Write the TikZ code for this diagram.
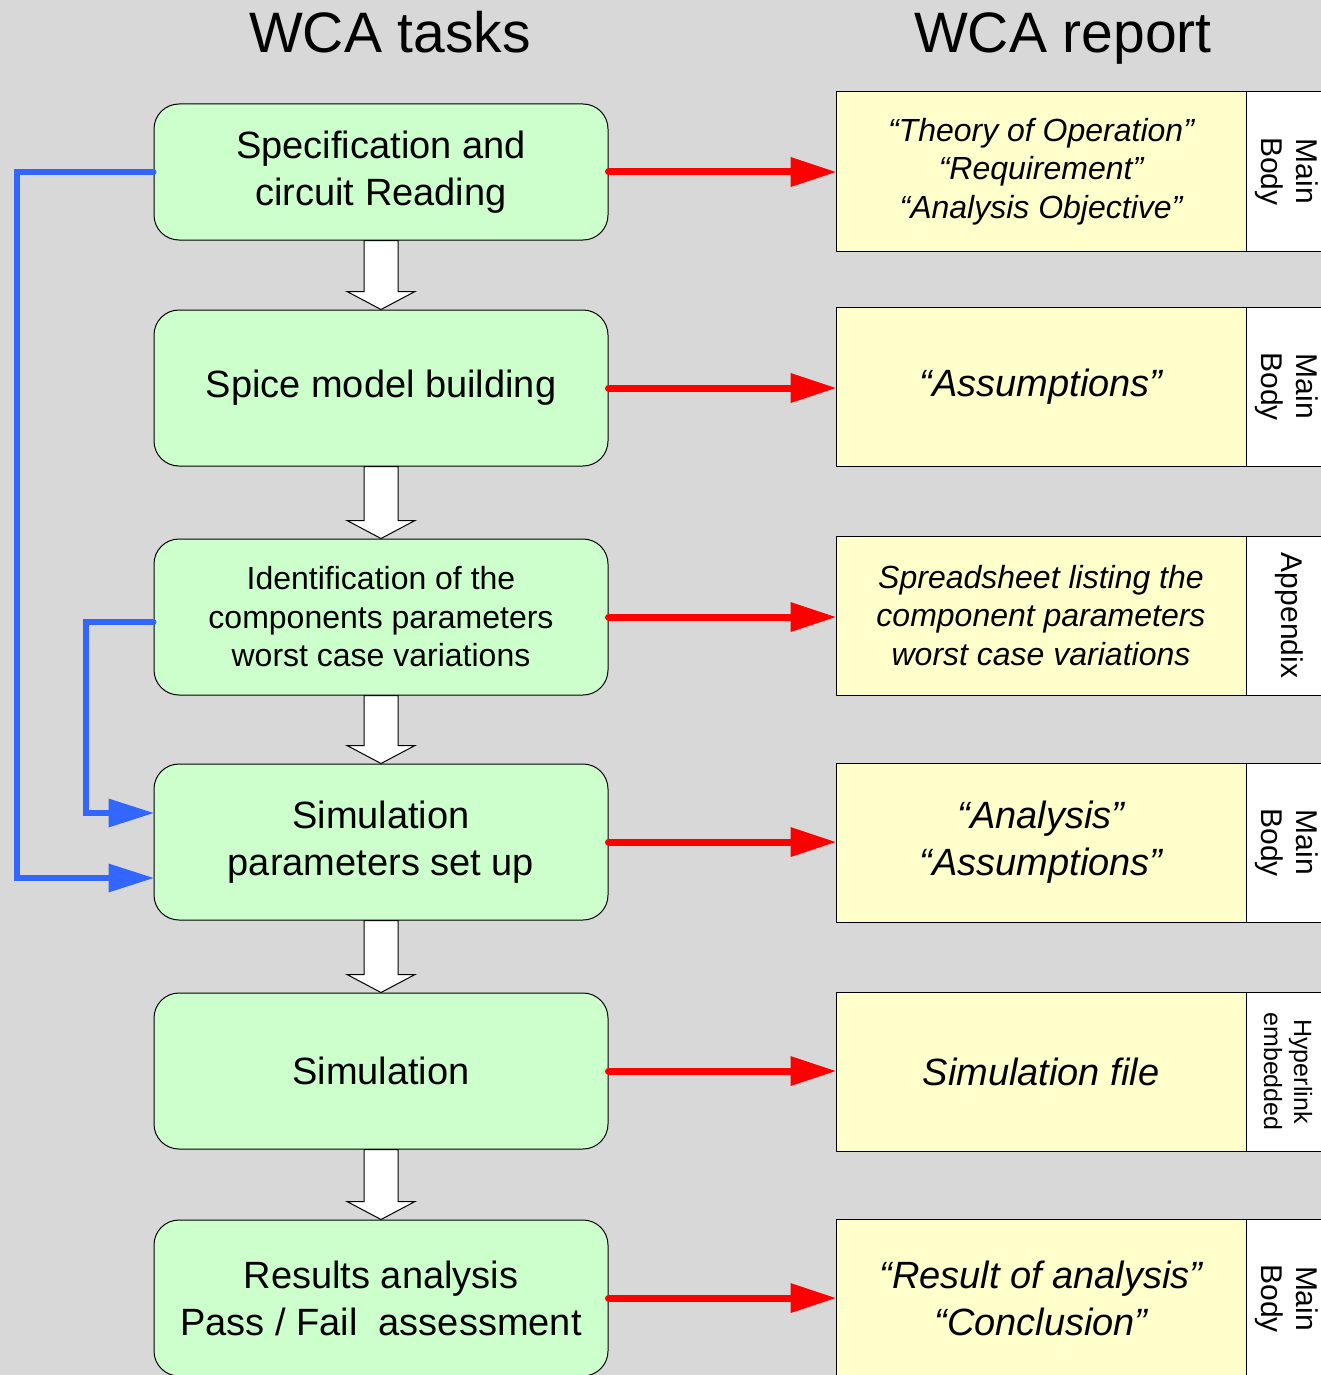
\documentclass[tikz,border=0pt]{standalone}
\usepackage{fontspec}
\setmainfont{Liberation Sans}
\usetikzlibrary{arrows.meta,calc}
\definecolor{bgcol}{RGB}{216,216,216}
\definecolor{taskgreen}{RGB}{204,255,204}
\definecolor{repyellow}{RGB}{255,255,204}
\definecolor{linkblue}{RGB}{51,102,255}
\newcommand\blkarrow[2]{%
  \draw[blk] ($(#1.south)+(-17,0)$) -- ($(#2.north)+(-17,-18)$) -- ($(#2.north)+(-34,-18)$)
    -- (#2.north) -- ($(#2.north)+(34,-18)$) -- ($(#2.north)+(17,-18)$) -- ($(#1.south)+(17,0)$) -- cycle;}
\begin{document}
\begin{tikzpicture}[x=1pt,y=-1pt,
  task/.style={draw=black, line width=1pt, fill=taskgreen, rounded corners=25pt,
    minimum width=454pt, minimum height=156pt, align=center, inner sep=0pt},
  report/.style={draw=black, line width=1pt, fill=repyellow, minimum width=410pt,
    minimum height=159pt, align=center, inner sep=0pt},
  tagbox/.style={draw=black, line width=1pt, fill=white, minimum width=88pt,
    minimum height=159pt, inner sep=0pt},
  taglabel/.style={rotate=-90, align=center, inner sep=0pt},
  bigtxt/.style={font=\fontsize{38}{47}\selectfont},
  midtxt/.style={font=\fontsize{32}{38.5}\selectfont},
  bigit/.style={font=\fontsize{38}{47}\selectfont\itshape},
  midit/.style={font=\fontsize{32}{38.5}\selectfont\itshape},
  tagtxt/.style={font=\fontsize{30}{35}\selectfont},
  tagsmall/.style={font=\fontsize{25}{30}\selectfont},
  titletxt/.style={font=\fontsize{57}{68}\selectfont, anchor=base, inner sep=0pt},
  blk/.style={draw=black, fill=white, line width=1pt, line join=miter},
  redarr/.style={draw=red, line width=7pt, line cap=round,
    -{Triangle[length=45pt,width=30pt,line width=0pt]}},
  bluearr/.style={draw=linkblue, line width=6pt, line cap=round,
    -{Triangle[length=45pt,width=29pt,line width=0pt]}}
]
\useasboundingbox (0,0) rectangle (1321,1375);
\fill[bgcol] (0,0) rectangle (1321,1375);

% titles
\node[titletxt] (ttask) at (390,53) {WCA tasks};
\node[titletxt] (trep) at (1063,53) {WCA report};

% task boxes
\node[task, bigtxt, minimum height=136pt] (t1) at (381,172) {Specification and\\circuit Reading};
\node[task, bigtxt] (t2) at (381,388) {Spice model building};
\node[task, midtxt] (t3) at (381,617) {Identification of the\\components parameters\\worst case variations};
\node[task, bigtxt] (t4) at (381,842) {Simulation\\parameters set up};
\node[task, bigtxt] (t5) at (381,1071) {Simulation};
\node[task, bigtxt] (t6) at (381,1298) {Results analysis\\Pass / Fail\ \ assessment};

% report boxes
\node[report, midit] (r1) at (1041,171.5) {``Theory of Operation''\\``Requirement''\\``Analysis Objective''};
\node[report, bigit] (r2) at (1041,386.5) {``Assumptions''};
\node[report, midit] (r3) at (1041,615.5) {Spreadsheet listing the\\component parameters\\worst case variations};
\node[report, bigit] (r4) at (1041,842.5) {``Analysis''\\``Assumptions''};
\node[report, bigit] (r5) at (1041,1071.5) {Simulation file};
\node[report, bigit] (r6) at (1041,1298.5) {``Result of analysis''\\``Conclusion''};

% tag boxes
\foreach \i/\y in {1/171.5,2/386.5,3/615.5,4/842.5,5/1071.5,6/1298.5} {
  \node[tagbox] (g\i) at (1290,\y) {};
}
\node[taglabel, tagtxt] (l1) at (1287,171.5) {Main\\Body};
\node[taglabel, tagtxt] (l2) at (1287,386.5) {Main\\Body};
\node[taglabel, tagtxt] (l3) at (1289,615.5) {Appendix};
\node[taglabel, tagtxt] (l4) at (1287,842.5) {Main\\Body};
\node[taglabel, tagsmall] (l5) at (1288,1071.5) {Hyperlink\\embedded};
\node[taglabel, tagtxt] (l6) at (1287,1298.5) {Main\\Body};

% block arrows
\blkarrow{t1}{t2}
\blkarrow{t2}{t3}
\blkarrow{t3}{t4}
\blkarrow{t4}{t5}
\blkarrow{t5}{t6}

% red arrows
\foreach \i in {1,...,6} {
  \draw[redarr] (t\i.east) -- (t\i.east -| r\i.west);
}

% blue feedback arrows
\draw[bluearr] (t1.west) -- ++(-137,0) |- ($(t4.west)+(0,36)$);
\draw[bluearr] ($(t3.west)+(0,5)$) -- ++(-68,0) |- ($(t4.west)+(0,-29)$);
\end{tikzpicture}
\end{document}
